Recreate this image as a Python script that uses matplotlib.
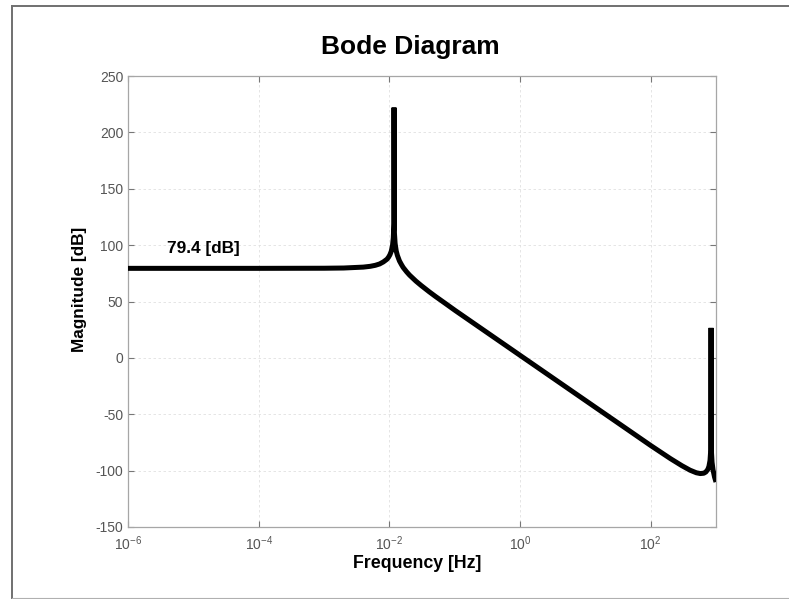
import matplotlib
matplotlib.use('Agg')
import matplotlib.pyplot as plt
from matplotlib.lines import Line2D
from matplotlib.ticker import NullLocator

plt.rcParams['font.family'] = ['Liberation Sans', 'DejaVu Sans']
plt.rcParams['mathtext.fontset'] = 'custom'
plt.rcParams['mathtext.rm'] = 'Liberation Sans'
plt.rcParams['mathtext.it'] = 'Liberation Sans:italic'
plt.rcParams['mathtext.bf'] = 'Liberation Sans:bold'
plt.rcParams['axes.unicode_minus'] = False

# ---- data ----
freq_hz = [1e-6, 1e-5, 1e-4, 1e-3, 0.0020, 0.0040, 0.0051, 0.0061, 0.0071, 0.0081,
           0.0092, 0.0097, 0.0102, 0.0107, 0.0112, 0.0115, 0.01174, 0.0118,
           0.01194, 0.01225, 0.01275, 0.01328, 0.01428, 0.01534, 0.01628,
           0.0184, 0.0204, 0.0255, 0.0307, 0.0408, 0.0511, 0.0715, 0.102,
           1.0, 10.0, 100.0, 200.0, 300.0, 400.0, 500.0, 575.0, 650.0, 700.0,
           750.0, 780.0, 810.0, 830.0, 840.0, 850.0, 870.0, 900.0, 950.0, 1000.0]
mag_db = [79.4, 79.4, 79.4, 79.5, 79.7, 80.5, 81.2, 82.1, 83.3, 85.1,
          87.5, 89.2, 91.4, 94.5, 99.9, 106.4, 119.0, 222.0,
          111.7, 101.6, 94.8, 90.9, 86.0, 82.7, 80.2,
          76.3, 73.4, 68.1, 64.2, 58.6, 54.4, 48.4, 42.0,
          2.3, -37.7, -77.7, -89.3, -95.6, -99.6, -101.9, -102.6, -102.3, -101.2,
          -98.9, -96.2, -91.0, -82.0, 26.6, -82.5, -92.5, -99.3, -105.7, -110.1]

x_ticks = [1e-6, 1e-4, 1e-2, 1e0, 1e2]
x_tick_labels = [r'$\mathregular{10^{-6}}$', r'$\mathregular{10^{-4}}$',
                 r'$\mathregular{10^{-2}}$', r'$\mathregular{10^{0}}$',
                 r'$\mathregular{10^{2}}$']
y_ticks = [-150, -100, -50, 0, 50, 100, 150, 200, 250]

title_text = 'Bode Diagram'
x_label = 'Frequency [Hz]'
y_label = 'Magnitude [dB]'
dc_label = '79.4 [dB]'

W, H = 789, 599
fig = plt.figure(figsize=(W / 100, H / 100), dpi=100)
fig.patch.set_facecolor('white')
ax = fig.add_axes([128 / W, 72 / H, 588 / W, 451 / H])
ax.set_xscale('log')
ax.plot(freq_hz, mag_db, color='black', lw=3.6,
        solid_joinstyle='bevel', solid_capstyle='butt', zorder=3)
ax.set_xlim(1e-6, 1e3)
ax.set_ylim(-150, 250)
ax.set_xticks(x_ticks)
ax.set_xticklabels(x_tick_labels)
ax.set_yticks(y_ticks)
ax.xaxis.set_minor_locator(NullLocator())
ax.grid(True, which='major', color='#e0e0e0', linestyle=(0, (3, 3)), lw=0.6)
ax.tick_params(direction='in', length=4, width=0.8, color='#777777',
               labelcolor='#555555', labelsize=10, top=True, right=True)
ax.tick_params(axis='x', pad=5.5)
ax.tick_params(axis='y', pad=3.5)
for s in ax.spines.values():
    s.set_color('#a6a6a6')
    s.set_linewidth(0.9)

ax.text(3.9e-6, 93.4, dc_label, fontsize=12.4, fontweight='bold',
        va='baseline', ha='left', color='black')

fig.text(410 / W, 1 - 54.3 / H, title_text, ha='center', va='baseline',
         fontsize=19, fontweight='bold')
fig.text(416.7 / W, 1 - 568 / H, x_label, ha='center', va='baseline',
         fontsize=12.8, fontweight='bold')
fig.text(79.5 / W, 1 - 289 / H, y_label, ha='center', va='center',
         rotation=90, fontsize=12.4, fontweight='bold')

# window frame
fig.add_artist(Line2D([12 / W, 12 / W], [1 - 6 / H, 1 - 598 / H],
                      transform=fig.transFigure, color='#707070', lw=1.4))
fig.add_artist(Line2D([12 / W, 1.0], [1 - 6 / H, 1 - 6 / H],
                      transform=fig.transFigure, color='#707070', lw=1.4))
fig.add_artist(Line2D([12 / W, 1.0], [1 - 598 / H, 1 - 598 / H],
                      transform=fig.transFigure, color='#b0b0b0', lw=0.8))

fig.savefig('out.png', dpi=100)
